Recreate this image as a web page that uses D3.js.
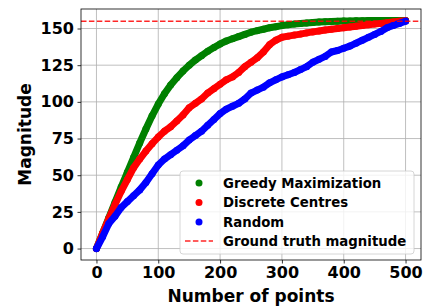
<!DOCTYPE html>
<html>
<head>
<meta charset="utf-8">
<script src="https://d3js.org/d3.v7.min.js"></script>
<style>
  body { margin: 0; background: #fff; }
  text { font-family: "DejaVu Sans", sans-serif; font-weight: bold; }
</style>
</head>
<body>
<div id="chart-area"></div>
<script>
// number of points, sampled every 10
var points = d3.range(0, 501, 10);

var greedy = [0, 10.5, 21, 31.5, 42, 52, 62, 72, 81.5, 90.5, 98.5, 105.5, 111.5, 116.5, 121, 125,
    128.5, 131.5, 134.5, 137, 139.5, 141.5, 143, 144.5, 146, 147.5, 148.5, 149.5, 150.5, 151.2, 152,
    152.5, 153, 153.4, 153.8, 154.1, 154.4, 154.6, 154.8, 155, 155.1, 155.2, 155.3, 155.3, 155.4,
    155.4, 155.5, 155.5, 155.5, 155.5, 155.5];

var discrete = [0, 10.5, 20.5, 30, 39, 47, 55, 61, 66.5, 71.5, 76, 80, 83, 87, 91, 96,
    99, 102, 106, 109, 112, 115, 117, 120, 124, 127, 130, 134, 139, 142, 144,
    144.8, 145.5, 146.2, 147, 147.7, 148.3, 149, 149.5, 150, 150.5, 151, 151.5, 152, 152.5,
    153, 153.5, 154, 154.5, 155, 155.3];

var random = [0, 8, 17, 22, 28, 32, 36, 40, 45, 51, 57, 61, 64, 67, 70, 74,
    77, 80, 84, 88, 92, 95, 97, 99, 102, 106, 108, 110, 113, 115, 117,
    118.5, 120, 122, 124, 127, 129, 131, 134, 135, 136.5, 138, 140, 142, 144,
    146, 148, 150.5, 152, 153.5, 155];

var groundTruth = 155;

var seriesNames = ["Greedy Maximization", "Discrete Centres", "Random"];
var seriesColors = ["green", "red", "blue"];
var seriesValues = [greedy, discrete, random];

var xTicks = [0, 100, 200, 300, 400, 500];
var yTicks = [0, 25, 50, 75, 100, 125, 150];

var margin = {left: 81, right: 12, top: 9, bottom: 47};
var width = 433 - margin.left - margin.right;
var height = 307 - margin.top - margin.bottom;

var svg = d3.select("#chart-area").append("svg")
    .attr("width", 433)
    .attr("height", 307);

var g = svg.append("g")
    .attr("transform", "translate(" + margin.left + "," + margin.top + ")");

var x = d3.scaleLinear().domain([-25, 525]).range([0, width]);
var y = d3.scaleLinear().domain([-7.8, 163.3]).range([height, 0]);

// grid
g.append("g").selectAll("line").data(xTicks).enter().append("line")
    .attr("x1", function(d) { return x(d); })
    .attr("x2", function(d) { return x(d); })
    .attr("y1", 0).attr("y2", height)
    .attr("stroke", "#b0b0b0").attr("stroke-width", 0.8);

g.append("g").selectAll("line").data(yTicks).enter().append("line")
    .attr("y1", function(d) { return y(d); })
    .attr("y2", function(d) { return y(d); })
    .attr("x1", 0).attr("x2", width)
    .attr("stroke", "#b0b0b0").attr("stroke-width", 0.8);

// series: dense markers drawn as a thick band plus dots
var line = d3.line()
    .x(function(d, i) { return x(points[i]); })
    .y(function(d) { return y(d); });

seriesValues.forEach(function(vals, k) {
    g.append("path")
        .attr("d", line(vals))
        .attr("fill", "none")
        .attr("stroke", seriesColors[k])
        .attr("stroke-width", 7)
        .attr("stroke-linejoin", "round")
        .attr("stroke-linecap", "round");

    g.append("g").selectAll("circle").data(vals).enter().append("circle")
        .attr("cx", function(d, i) { return x(points[i]); })
        .attr("cy", function(d) { return y(d); })
        .attr("r", 3.5)
        .attr("fill", seriesColors[k]);
});

// ground truth
g.append("line")
    .attr("x1", 0).attr("x2", width)
    .attr("y1", y(groundTruth)).attr("y2", y(groundTruth))
    .attr("stroke", "red").attr("stroke-opacity", 0.85)
    .attr("stroke-width", 1.5)
    .attr("stroke-dasharray", "5.5,2.4");

// axes
var xAxis = g.append("g")
    .attr("transform", "translate(0," + height + ")")
    .call(d3.axisBottom(x).tickValues(xTicks).tickSize(3.5).tickPadding(3.5));

var yAxis = g.append("g")
    .call(d3.axisLeft(y).tickValues(yTicks).tickSize(3.5).tickPadding(3.5));

[xAxis, yAxis].forEach(function(a) {
    a.select(".domain").remove();
    a.selectAll("line").attr("stroke", "#000").attr("stroke-width", 0.8);
    a.selectAll("text")
        .attr("fill", "#000")
        .style("font-family", "DejaVu Sans")
        .style("font-weight", "bold")
        .style("font-size", "16px");
});

// frame
g.append("rect")
    .attr("width", width).attr("height", height)
    .attr("fill", "none").attr("stroke", "#000").attr("stroke-width", 0.8);

// axis labels
svg.append("text")
    .attr("x", margin.left + width / 2)
    .attr("y", 301.5)
    .attr("text-anchor", "middle")
    .style("font-size", "17px")
    .text("Number of points");

svg.append("text")
    .attr("transform", "translate(31," + (margin.top + height / 2) + ") rotate(-90)")
    .attr("text-anchor", "middle")
    .style("font-size", "17px")
    .text("Magnitude");

// legend
var legend = svg.append("g").attr("transform", "translate(180,171)");

legend.append("rect")
    .attr("width", 234).attr("height", 83)
    .attr("rx", 3)
    .attr("fill", "#fff").attr("fill-opacity", 0.8)
    .attr("stroke", "#cccccc").attr("stroke-width", 0.8);

var rowY = [12, 31.5, 51, 70];

seriesNames.forEach(function(name, k) {
    legend.append("circle")
        .attr("cx", 19).attr("cy", rowY[k])
        .attr("r", 3.5)
        .attr("fill", seriesColors[k]);
    legend.append("text")
        .attr("x", 43).attr("y", rowY[k])
        .attr("dy", "0.35em")
        .style("font-size", "13.3px")
        .text(name);
});

legend.append("line")
    .attr("x1", 5).attr("x2", 33)
    .attr("y1", rowY[3]).attr("y2", rowY[3])
    .attr("stroke", "red").attr("stroke-opacity", 0.85)
    .attr("stroke-width", 1.5)
    .attr("stroke-dasharray", "5.5,2.4");

legend.append("text")
    .attr("x", 43).attr("y", rowY[3])
    .attr("dy", "0.35em")
    .style("font-size", "13.3px")
    .text("Ground truth magnitude");
</script>
</body>
</html>
